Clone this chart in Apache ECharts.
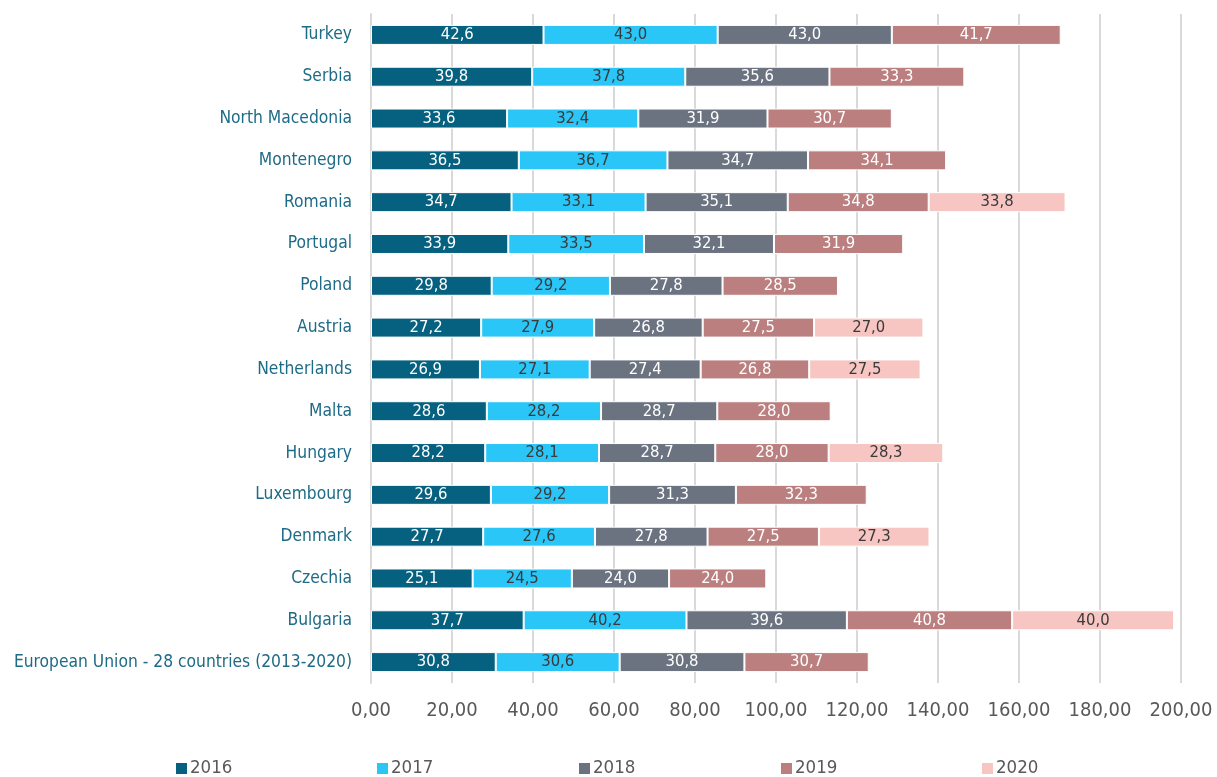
<!DOCTYPE html>
<html><head><meta charset="utf-8">
<script src="https://cdn.jsdelivr.net/npm/echarts@6/dist/echarts.min.js"></script>
<style>html,body{margin:0;padding:0;background:#fff}#c{width:1217px;height:777px}</style>
</head><body><div id="c"></div>
<script>
const categories = ["Turkey","Serbia","North Macedonia","Montenegro","Romania","Portugal","Poland","Austria","Netherlands","Malta","Hungary","Luxembourg","Denmark","Czechia","Bulgaria","European Union - 28 countries (2013-2020)"];
const years = ["2016","2017","2018","2019","2020"];
const v2016 = [42.6,39.8,33.6,36.5,34.7,33.9,29.8,27.2,26.9,28.6,28.2,29.6,27.7,25.1,37.7,30.8];
const v2017 = [43.0,37.8,32.4,36.7,33.1,33.5,29.2,27.9,27.1,28.2,28.1,29.2,27.6,24.5,40.2,30.6];
const v2018 = [43.0,35.6,31.9,34.7,35.1,32.1,27.8,26.8,27.4,28.7,28.7,31.3,27.8,24.0,39.6,30.8];
const v2019 = [41.7,33.3,30.7,34.1,34.8,31.9,28.5,27.5,26.8,28.0,28.0,32.3,27.5,24.0,40.8,30.7];
const v2020 = [null,null,null,null,33.8,null,null,27.0,27.5,null,28.3,null,27.3,null,40.0,null];
const tickMin = 0, tickMax = 200, tickStep = 20;

const values = [v2016,v2017,v2018,v2019,v2020];
const colors = ["#05617f","#29c6f7","#6b7381","#bb7f7f","#f7c6c3"];
const labelColors = ["#ffffff","#3a3a3a","#ffffff","#ffffff","#3a3a3a"];
const FONT = "'Liberation Sans Narrow','DejaVu Sans Condensed','Roboto',sans-serif";

const chart = echarts.init(document.getElementById('c'));
const series = years.map((y,i)=>({
  name:y, type:'bar', stack:'total', barWidth:20,
  data: values[i],
  itemStyle:{color:colors[i], borderColor:'#ffffff', borderWidth:1},
  label:{show:true, position:'inside', color:labelColors[i], fontFamily:FONT, fontSize:16.5,
    formatter:p=> p.value==null?'':p.value.toFixed(1).replace('.',',')},
  emphasis:{disabled:true}
}));
const legendLefts = [169,370,572,774,975];
const legends = years.map((y,i)=>({
  data:[y], left:legendLefts[i], top:754, itemWidth:13, itemHeight:13, itemGap:4,
  icon:'rect', selectedMode:false,
  textStyle:{color:'#595959', fontFamily:FONT, fontSize:18.5, padding:[0,0,0,-3]}
}));
chart.setOption({
  animation:false,
  legend: legends,
  grid:{left:371, right:36, top:14, bottom:94, containLabel:false, outerBoundsMode:'none'},
  xAxis:{type:'value', min:tickMin, max:tickMax, interval:tickStep,
    axisLine:{show:false}, axisTick:{show:false},
    splitLine:{show:true, lineStyle:{color:'#d9d9d9', width:2}},
    axisLabel:{color:'#595959', fontFamily:FONT, fontSize:20, margin:18,
      formatter:v=>v.toFixed(2).replace('.',',')}},
  yAxis:{type:'category', data:categories, inverse:true,
    axisLine:{show:true, lineStyle:{color:'#d9d9d9', width:2}}, axisTick:{show:false},
    axisLabel:{color:'#1d6b86', fontFamily:FONT, fontSize:17.3, margin:19}},
  series
});
</script></body></html>
